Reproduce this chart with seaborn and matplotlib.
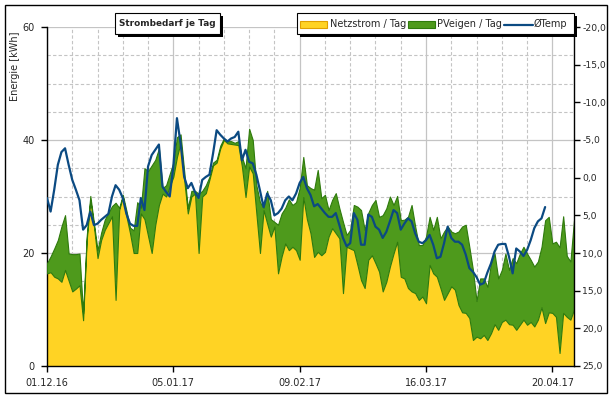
import numpy as np
import pandas as pd
import matplotlib
matplotlib.use("Agg")
import matplotlib.pyplot as plt
import matplotlib.dates as mdates
from matplotlib.patches import Rectangle
from matplotlib.lines import Line2D
import seaborn as sns

# Tageswerte ab 01.12.2016
start_date = "2016-12-01"

netzstrom = [
    16.4, 16.6, 15.8, 15.5, 14.9, 17.0, 15.1, 13.2, 13.7, 14.3,
    8.1, 22.3, 29.4, 24.7, 19.1, 22.3, 24.1, 25.3, 26.5, 11.7,
    27.6, 30.0, 26.5, 23.5, 20.0, 20.0, 27.0, 26.0, 23.0, 20.0,
    25.0, 28.5, 30.5, 30.0, 31.8, 33.5, 37.0, 39.5, 33.0, 27.0,
    30.0, 30.5, 20.0, 30.0, 30.6, 33.0, 35.5, 36.0, 38.5, 40.0,
    39.4, 39.3, 39.2, 39.1, 35.3, 29.9, 35.3, 34.1, 27.0, 20.0,
    27.6, 25.2, 22.9, 24.7, 16.4, 19.4, 21.7, 20.5, 21.1, 20.5,
    18.8, 29.9, 26.0, 23.5, 19.3, 20.2, 19.6, 20.2, 22.9, 24.4,
    23.5, 22.6, 12.9, 21.1, 20.8, 20.5, 17.9, 15.2, 13.8, 18.8,
    19.6, 18.2, 16.7, 13.2, 14.9, 17.6, 19.9, 22.0, 15.8, 15.5,
    13.8, 13.2, 12.9, 11.7, 12.3, 11.1, 17.9, 16.4, 15.8, 13.8,
    11.7, 12.9, 14.1, 13.5, 10.8, 9.5, 9.4, 8.5, 4.6, 5.2,
    4.9, 5.5, 4.6, 5.8, 7.4, 6.4, 7.8, 8.2, 7.4, 7.3,
    6.4, 7.3, 8.2, 7.3, 7.8, 7.0, 8.2, 10.4, 7.6, 9.5,
    9.4, 8.7, 2.3, 9.4, 8.7, 8.2, 10.0,
]

pv_eigen = [
    1.8, 2.8, 5.0, 6.8, 9.8, 9.7, 4.8, 6.6, 6.1, 5.6,
    1.2, 0.7, 0.7, 0.6, 1.4, 1.3, 1.8, 1.8, 1.8, 17.2,
    0.4, 0.3, 1.0, 1.0, 4.0, 9.0, 1.0, 9.0, 11.5, 15.5,
    11.5, 10.0, 1.0, 2.0, 2.2, 2.5, 3.5, 1.5, 1.5, 1.0,
    1.0, 0.5, 10.5, 1.0, 1.4, 0.5, 0.5, 0.5, 0.5, 0.3,
    0.4, 0.5, 0.3, 0.7, 1.7, 5.1, 6.7, 5.9, 5.0, 9.0,
    0.4, 5.8, 3.1, 0.8, 8.6, 7.6, 6.3, 9.0, 7.4, 8.5,
    12.7, 7.1, 6.0, 8.0, 11.9, 14.5, 10.1, 10.1, 4.7, 5.0,
    7.1, 5.3, 12.6, 2.1, 3.3, 8.0, 10.3, 12.4, 10.3, 8.3,
    8.9, 11.2, 9.7, 13.5, 13.0, 12.4, 8.6, 8.1, 10.0, 10.4,
    12.6, 15.3, 11.8, 9.7, 9.1, 11.8, 8.5, 7.7, 10.6, 8.8,
    12.1, 11.8, 9.7, 10.0, 13.0, 15.2, 15.6, 12.6, 12.4, 6.3,
    10.6, 10.0, 9.4, 12.4, 12.5, 9.1, 9.2, 11.7, 9.6, 11.8,
    11.8, 12.6, 12.9, 12.6, 11.0, 10.6, 10.3, 10.7, 18.2, 16.9,
    12.3, 13.3, 18.7, 17.1, 10.8, 10.3, 15.8,
]

temp = [
    2.7, 4.5, 1.6, -1.7, -3.4, -3.9, -1.7, 0.3, 1.6, 3.0,
    6.9, 6.3, 4.5, 6.3, 6.1, 5.6, 5.2, 4.8, 2.5, 1.0,
    1.6, 2.7, 4.8, 6.1, 6.4, 6.4, 2.7, 4.3, -1.5, -3.0,
    -3.7, -4.4, 1.2, 1.9, 2.5, -1.5, -7.9, -4.6, -0.1, 1.4,
    0.7, 1.9, 2.7, 0.3, -0.1, -0.4, -3.2, -6.3, -5.7, -5.2,
    -4.8, -5.2, -5.4, -6.1, -2.3, -3.7, -2.1, -1.9, -0.4, 1.7,
    3.9, 2.1, 3.0, 5.0, 4.7, 4.1, 3.0, 2.5, 3.0, 2.1,
    0.7, -0.1, 1.4, 2.3, 3.8, 3.5, 4.1, 4.7, 5.2, 5.2,
    4.7, 6.3, 8.0, 9.1, 8.7, 4.7, 5.6, 8.9, 8.9, 4.9,
    5.2, 6.5, 6.9, 8.0, 7.2, 5.8, 4.3, 4.7, 6.9, 6.1,
    5.4, 5.8, 7.4, 8.5, 8.7, 8.3, 7.6, 8.9, 10.7, 10.5,
    8.7, 6.5, 8.0, 8.5, 8.5, 8.9, 10.2, 12.0, 12.5, 13.2,
    14.2, 14.0, 12.6, 11.4, 9.8, 8.9, 8.8, 8.8, 10.5, 12.7,
    9.4, 9.8, 10.4, 9.6, 8.3, 6.7, 5.8, 5.4, 3.9,
]

YELLOW = "#FFD324"
GREEN = "#4E9A1C"
DKGREEN = "#2E7A0C"
BLUE = "#0B4A82"

W, H = 614, 398


def fx(x):
    return x / W


def fy(y):
    return 1 - y / H


sns.set_style("white")
plt.rcParams["font.family"] = ["DejaVu Sans"]

days = pd.date_range(start_date, periods=len(netzstrom), freq="D")
gesamt = np.add(netzstrom, pv_eigen)

fig = plt.figure(figsize=(W / 100, H / 100), dpi=100)
ax = fig.add_axes([fx(47), fy(366), (574 - 47) / W, (366 - 27) / H])

# Flaechen: Netzstrom unten, PV-Eigenverbrauch gestapelt
ax.fill_between(days, 0, netzstrom, color=YELLOW, lw=0, zorder=2)
ax.fill_between(days, netzstrom, gesamt, facecolor=GREEN, edgecolor=DKGREEN,
                lw=0.8, zorder=3)

ax.set_xlim(days[0], days[-1])
ax.set_ylim(0, 60)
ax.set_yticks([0, 20, 40, 60])
ax.set_yticks(np.arange(0, 61, 5), minor=True)
ax.set_xticks(days[::35])
ax.set_xticks(days[::7], minor=True)
ax.xaxis.set_major_formatter(mdates.DateFormatter("%d.%m.%y"))
ax.set_axisbelow(True)
ax.grid(which="major", color="#c4c4c4", lw=0.9, ls="-")
ax.grid(which="minor", color="#c4c4c4", lw=0.8, ls=(0, (3, 2)))
ax.tick_params(which="major", direction="out", length=4, width=1,
               labelsize=7, color="black", pad=5, left=True, bottom=True)
ax.tick_params(which="minor", length=0)
for s in ["top", "right"]:
    ax.spines[s].set_visible(False)
for s in ["left", "bottom"]:
    ax.spines[s].set_color("black")
    ax.spines[s].set_linewidth(1)

# Temperatur auf inverser Zweitachse
ax2 = ax.twinx()
sns.lineplot(x=days[:len(temp)], y=temp, ax=ax2, color=BLUE, lw=1.6,
             legend=False, zorder=5)
ax2.set_ylim(25, -20)
ax2.set_yticks(np.arange(-20, 26, 5))
ax2.set_yticklabels([f"{v:.1f}".replace(".", ",") for v in np.arange(-20, 26, 5)])
ax2.tick_params(axis="y", direction="out", length=4, width=1, labelsize=6.7,
                color="black", pad=2, right=True)
ax2.set_ylabel("")
for s in ["left", "top", "bottom"]:
    ax2.spines[s].set_visible(False)
ax2.spines["right"].set_color("black")
ax2.spines["right"].set_linewidth(1)

fig.text(fx(15), fy(66), "Energie [kWh]", rotation=90, ha="center",
         va="center", fontsize=7)

# Rahmen um das ganze Diagramm
fig.add_artist(Rectangle((fx(5), fy(393)), 602 / W, 388 / H, fill=False,
                         edgecolor="black", lw=1, transform=fig.transFigure))


def shadow_box(x0, y0, x1, y1):
    fig.add_artist(Rectangle((fx(x0 + 3), fy(y1 + 3)), (x1 - x0) / W,
                             (y1 - y0) / H, facecolor="black", lw=0,
                             transform=fig.transFigure, zorder=10))
    fig.add_artist(Rectangle((fx(x0), fy(y1)), (x1 - x0) / W, (y1 - y0) / H,
                             facecolor="white", edgecolor="black", lw=0.8,
                             transform=fig.transFigure, zorder=11))


# Titelbox
shadow_box(115, 13, 220, 34)
fig.text(fx(167.5), fy(23.5), "Strombedarf je Tag", ha="center", va="center",
         fontsize=6.4, fontweight="bold", zorder=12)

# Legende
shadow_box(297, 13, 574, 34)
fig.add_artist(Rectangle((fx(300), fy(28)), 27 / W, 7 / H, facecolor=YELLOW,
                         edgecolor="#E0A000", lw=0.8,
                         transform=fig.transFigure, zorder=12))
fig.text(fx(330), fy(24), "Netzstrom / Tag", va="center", fontsize=7, zorder=12)
fig.add_artist(Rectangle((fx(408), fy(28)), 27 / W, 7 / H, facecolor=GREEN,
                         edgecolor=DKGREEN, lw=0.8,
                         transform=fig.transFigure, zorder=12))
fig.text(fx(437), fy(24), "PVeigen / Tag", va="center", fontsize=7, zorder=12)
fig.add_artist(Line2D([fx(504), fx(533)], [fy(24.5), fy(24.5)], color=BLUE,
                      lw=1.6, transform=fig.transFigure, zorder=12))
fig.text(fx(534), fy(24), "ØTemp", va="center", fontsize=7, zorder=12)

fig.savefig("out.png", dpi=100)
